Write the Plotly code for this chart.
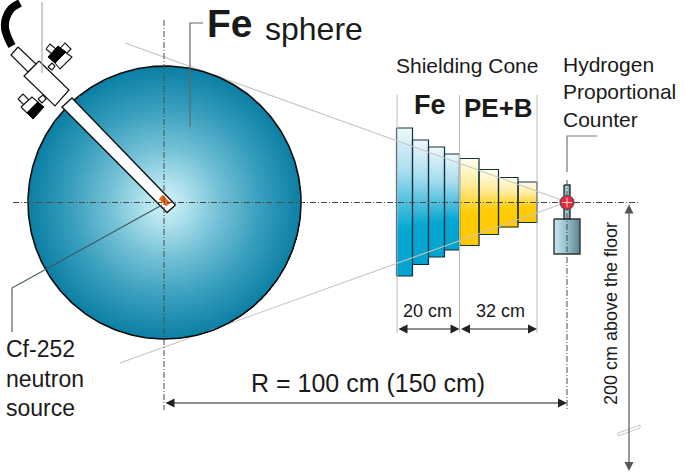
import numpy as np
import plotly.graph_objects as go

# ---- drawing values (pixel units of the 685x473 sheet) ----
sphere_center = (164.5, 202.5)
sphere_radius = 136.5
axis_y = 202.5
detector_x = 567

fe_edges = [396.5, 412.5, 428.5, 444.5, 459.5]
fe_tops = [128, 140, 147, 154]
fe_bottoms = [276, 264.5, 257, 250]
pe_edges = [459.5, 479, 498.5, 518, 537]
pe_tops = [158.5, 169.5, 177.5, 182]
pe_bottoms = [245.5, 234.5, 227, 222.5]

rod = [(175.5, 205), (167, 212.5), (62, 107), (72, 98)]
flange = [(39, 61), (69, 90), (55, 106), (24, 76)]
upper_tube = [(18, 47), (36, 64), (28, 72), (11, 55)]
white_parts = [
    [(55, 54), (65, 43), (71, 49), (60, 60)],
    [(46, 49), (50, 44), (56, 49), (52, 54)],
    [(55, 63), (65, 52), (72, 57), (60, 69)],
    [(48, 67), (52, 63), (55, 66), (52, 70)],
    [(38, 99), (43, 95), (46, 99), (42, 103)],
    [(18, 99), (23, 94), (29, 100), (24, 105)],
    [(21, 107), (32, 97), (38, 102), (27, 113)],
]
black_parts = [
    [(48, 57), (58, 46), (66, 52), (55, 63)],
    [(27, 113), (38, 102), (44, 107), (33, 119)],
]
black_arc_x = [20, 11, 6, 5, 8, 12]
black_arc_y = [3, 9, 18, 28, 38, 46]
source_square = [(159, 199), (163, 195), (170, 203), (166, 206)]

cone_top = [(125, 43), (567, 202)]
cone_bottom = [(120, 363), (567, 202)]
guide_x = [397, 459.5, 537]
guide_y = (95, 333)
fe_leader = [(190, 127), (190, 23), (203, 23)]
cf_leader = [(162, 205), (12, 288), (12, 332)]
hpc_leader = [(567, 172), (567, 136), (597, 136)]
pipe_line = [(42, 2), (42, 73)]

labels = ["Fe", "sphere", "Shielding Cone", "Fe", "PE+B", "Hydrogen", "Proportional",
          "Counter", "Cf-252", "neutron", "source", "R = 100 cm (150 cm)", "20 cm", "32 cm",
          "200 cm above the floor"]

# ---- helpers ----
FONT = "Liberation Sans"
fig = go.Figure()


def poly(points, fill=None, line="#111111", width=1.2, dash=None, closed=True, spline=False):
    pts = list(points) + ([points[0]] if closed else [])
    fig.add_trace(go.Scatter(
        x=[p[0] for p in pts], y=[p[1] for p in pts], mode="lines",
        fill="toself" if fill else "none", fillcolor=fill,
        line=dict(color=line, width=width, dash=dash, shape="spline" if spline else "linear"),
        hoverinfo="skip", showlegend=False))


def grad_v(x0, x1, top, bottom, scale):
    ys = np.arange(top, bottom + 0.5, 1.0)
    ys = np.append(ys[:-1], bottom) if ys[-1] != bottom else ys
    mids = (ys[:-1] + ys[1:]) / 2
    z = ((mids - top) / (bottom - top)).reshape(-1, 1)
    fig.add_trace(go.Heatmap(x=[x0, x1], y=ys, z=z, colorscale=scale, zmin=0, zmax=1,
                             showscale=False, hoverinfo="skip"))
    poly([(x0, top), (x1, top), (x1, bottom), (x0, bottom)], line="#12303c", width=1.2)


def grad_h(x0, x1, top, bottom, scale, outline="#333333"):
    xs = np.linspace(x0, x1, int(x1 - x0) + 1)
    mids = (xs[:-1] + xs[1:]) / 2
    z = ((mids - x0) / (x1 - x0)).reshape(1, -1)
    fig.add_trace(go.Heatmap(x=xs, y=[top, bottom], z=z, colorscale=scale, zmin=0, zmax=1,
                             showscale=False, hoverinfo="skip"))
    poly([(x0, top), (x1, top), (x1, bottom), (x0, bottom)], line=outline, width=1.4)


annotations = []


def text(t, x, y, size, bold=False, anchor="left", angle=0):
    annotations.append(dict(x=x, y=y, xref="x", yref="y", text=f"<b>{t}</b>" if bold else t,
                            showarrow=False, xanchor=anchor, yanchor="middle", textangle=angle,
                            font=dict(family=FONT, size=size, color="#1a1a1a")))


def arrow(x0, y0, x1, y1, color="#222222"):
    annotations.append(dict(x=x1, y=y1, ax=x0, ay=y0, xref="x", yref="y", axref="x", ayref="y",
                            text="", showarrow=True, arrowhead=2, arrowside="end+start",
                            arrowsize=1.5, arrowwidth=1.2, arrowcolor=color,
                            startarrowhead=2, startarrowsize=1.5))


# ---- shielding cone ----
fe_scale = [[0, "#eef8fc"], [0.3, "#a6dcef"], [0.68, "#05a8d2"], [1, "#00a3cd"]]
pe_scale = [[0, "#fffdec"], [0.3, "#ffeb9a"], [0.62, "#ffcb05"], [1, "#ffca00"]]
for i in range(4):
    grad_v(fe_edges[i], fe_edges[i + 1], fe_tops[i], fe_bottoms[i], fe_scale)
for i in range(4):
    grad_v(pe_edges[i], pe_edges[i + 1], pe_tops[i], pe_bottoms[i], pe_scale)
for gx in guide_x:
    poly([(gx, guide_y[0]), (gx, guide_y[1])], line="#bdbdbd", width=1, closed=False)

# ---- detector ----
grad_h(564, 570, 185, 219, [[0, "#6f9fb0"], [0.5, "#b5dbe6"], [1, "#54808f"]])
grad_h(554, 580, 219, 254, [[0, "#c8e8f0"], [0.5, "#93bfcb"], [1, "#5b8491"]])

# ---- cone lines (behind the sphere, above the bars) ----
poly(cone_top, line="#c4c4c4", width=1.1, closed=False)
poly(cone_bottom, line="#c4c4c4", width=1.1, closed=False)

# ---- sphere ----
cx, cy = sphere_center
r = sphere_radius
gx = np.arange(np.floor(cx - r) - 1, np.ceil(cx + r) + 2, 1.0)
gy = np.arange(np.floor(cy - r) - 1, np.ceil(cy + r) + 2, 1.0)
xx, yy = np.meshgrid(gx, gy)
rad = np.hypot(xx - cx, yy - cy) / r
rad[rad > 1.0] = np.nan
fig.add_trace(go.Heatmap(
    x=gx, y=gy, z=rad, zmin=0, zmax=1, showscale=False, hoverinfo="skip",
    colorscale=[[0, "#d2f1f8"], [0.15, "#b3e3ef"], [0.4, "#74c1d6"], [0.7, "#389ebd"], [1, "#0b7fa4"]]))
ang = np.linspace(0, 2 * np.pi, 361)
fig.add_trace(go.Scatter(x=cx + r * np.cos(ang), y=cy + r * np.sin(ang), mode="lines",
                         line=dict(color="#0b0b0b", width=1.6), hoverinfo="skip", showlegend=False))

# ---- source insert ----
poly(rod, fill="#ffffff", width=1.4)
poly(source_square, fill="#f2650f", line="#f2650f", width=0.5)
poly(flange, fill="#ffffff", width=1.2)
poly(upper_tube, fill="#ffffff", width=1.2)
for part in white_parts:
    poly(part, fill="#ffffff", width=1.1)
for part in black_parts:
    poly(part, fill="#000000", line="#000000", width=1)
fig.add_trace(go.Scatter(x=black_arc_x, y=black_arc_y, mode="lines", hoverinfo="skip", showlegend=False,
                         line=dict(color="#000000", width=8, shape="spline")))

# ---- centre lines ----
DD = "6px,2px,1px,2px"
poly([(13, axis_y), (638, axis_y)], line="#4a4a4a", width=1, dash=DD, closed=False)
poly([(164, 20), (164, 410)], line="#4a4a4a", width=1, dash=DD, closed=False)
poly([(detector_x, 180), (detector_x, 410)], line="#4a4a4a", width=1, dash=DD, closed=False)

# ---- leaders ----
poly(fe_leader, line="#666666", width=1.2, closed=False)
poly(cf_leader, line="#3f5560", width=1.1, closed=False)
poly(hpc_leader, line="#777777", width=1.2, closed=False)
poly(pipe_line, line="#aaaaaa", width=1.2, closed=False)

# ---- counter ball ----
fig.add_trace(go.Scatter(x=[detector_x], y=[axis_y], mode="markers", hoverinfo="skip", showlegend=False,
                         marker=dict(size=14, color="#e8263c", line=dict(color="#555555", width=1.2))))
fig.add_trace(go.Scatter(x=[detector_x], y=[axis_y], mode="markers", hoverinfo="skip", showlegend=False,
                         marker=dict(size=7, symbol="cross-thin", line=dict(color="#f5d5d5", width=1))))

# ---- dimension arrows ----
arrow(397, 329, 459.5, 329)
arrow(459.5, 329, 537, 329)
arrow(164, 403, 567, 403)
arrow(629, 203, 629, 471, color="#555555")
fig.add_trace(go.Scatter(x=[618, 640, 640, 618, 618], y=[433, 425, 428, 436, 433], mode="lines",
                         fill="toself", fillcolor="#ffffff", line=dict(color="#c8c8c8", width=1),
                         hoverinfo="skip", showlegend=False))

# ---- texts ----
text(labels[0], 205, 23, 39, bold=True)
text(labels[1], 263, 29, 32)
text(labels[2], 394, 65, 21)
text(labels[3], 412, 105, 27, bold=True)
text(labels[4], 462, 108, 26, bold=True)
text(labels[5], 561, 64, 21)
text(labels[6], 561, 91, 21)
text(labels[7], 561, 119, 21)
text(labels[8], 4, 349, 23)
text(labels[9], 4, 379, 23)
text(labels[10], 4, 408, 23)
text(labels[11], 368, 383, 25, anchor="center")
text(labels[12], 427, 311, 18, anchor="center")
text(labels[13], 500, 311, 18, anchor="center")
text(labels[14], 611, 314, 18, anchor="center", angle=-90)

fig.update_layout(
    width=685, height=473, margin=dict(l=0, r=0, t=0, b=0), showlegend=False,
    paper_bgcolor="#ffffff", plot_bgcolor="#ffffff", annotations=annotations,
    xaxis=dict(range=[0, 685], visible=False, fixedrange=True),
    yaxis=dict(range=[473, 0], visible=False, fixedrange=True),
)
fig.write_html("out.html", config={"displayModeBar": False},
               post_script="document.body.style.margin='0';document.documentElement.style.overflow='hidden';")
